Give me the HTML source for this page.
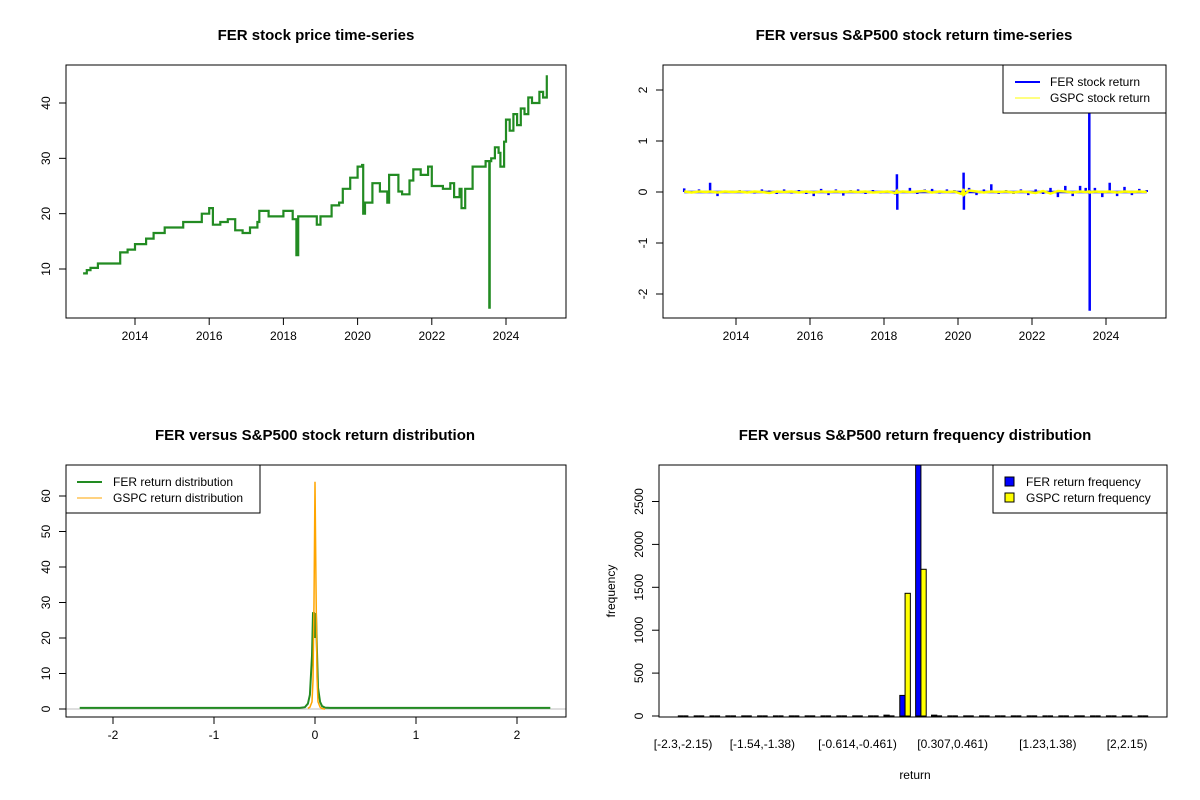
<!DOCTYPE html>
<html><head><meta charset="utf-8"><style>
html,body{margin:0;padding:0;background:#fff;}
svg{display:block;font-family:"Liberation Sans",Arial,sans-serif;}
</style></head><body>
<svg id="s" width="1200" height="800" viewBox="0 0 1200 800"></svg>
<script>
// ---------- data ----------
const priceDates=[2012.6,2012.7,2012.8,2013.0,2013.55,2013.6,2013.8,2014.0,2014.3,2014.5,2014.8,2015.0,2015.3,2015.5,2015.8,2016.0,2016.05,2016.1,2016.3,2016.5,2016.7,2016.9,2017.1,2017.3,2017.35,2017.6,2017.8,2018.0,2018.25,2018.3,2018.35,2018.4,2018.6,2018.9,2019.0,2019.3,2019.5,2019.6,2019.8,2020.0,2020.12,2020.15,2020.2,2020.4,2020.6,2020.8,2020.85,2020.9,2021.1,2021.2,2021.4,2021.5,2021.7,2021.9,2022.0,2022.3,2022.5,2022.6,2022.75,2022.8,2022.9,2023.1,2023.3,2023.45,2023.5,2023.55,2023.56,2023.6,2023.7,2023.8,2023.85,2023.95,2024.0,2024.1,2024.2,2024.3,2024.4,2024.5,2024.6,2024.7,2024.8,2024.9,2025.0,2025.1];
const priceValues=[9.2,9.8,10.2,11,11,13,13.5,14.5,15.5,16.5,17.5,17.5,18.5,18.5,20,21,21,18,18.5,19,17,16.5,17.5,18.5,20.5,19.5,19.5,20.5,19,19,12.5,19.5,19.5,18,19.5,21.5,22,24.5,26.5,28.5,28.8,20,22,25.5,24,22,27,27,24,23.5,26,28,27,28.5,25,24.5,25.5,23,24.5,21,24.5,28.5,28.5,29.5,29.5,3,29.5,30,32,31,28.5,33,37,35,38,36,39,38,41,40,40,42,41,45];
const retDates=[2012.6,2012.8,2013.0,2013.2,2013.3,2013.5,2013.7,2013.9,2014.1,2014.3,2014.5,2014.7,2014.9,2015.1,2015.3,2015.5,2015.7,2015.9,2016.1,2016.3,2016.5,2016.7,2016.9,2017.1,2017.3,2017.5,2017.7,2017.9,2018.1,2018.3,2018.35,2018.36,2018.5,2018.7,2018.9,2019.1,2019.3,2019.5,2019.7,2019.9,2020.1,2020.15,2020.16,2020.3,2020.5,2020.7,2020.9,2021.1,2021.3,2021.5,2021.7,2021.9,2022.1,2022.3,2022.5,2022.7,2022.9,2023.1,2023.3,2023.45,2023.55,2023.56,2023.7,2023.9,2024.1,2024.3,2024.5,2024.7,2024.9,2025.1];
const ferReturns=[0.07,-0.03,0.05,0.02,0.18,-0.08,0.03,-0.02,0.04,0.02,-0.03,0.05,0.03,-0.04,0.05,-0.03,0.04,-0.04,-0.08,0.06,-0.06,0.05,-0.07,0.04,0.05,-0.04,0.04,-0.03,0.03,-0.05,0.35,-0.35,0.03,0.08,-0.04,0.05,0.06,-0.03,0.05,0.04,-0.05,0.38,-0.35,0.08,-0.06,0.05,0.15,-0.04,0.04,-0.04,0.05,-0.06,0.05,-0.04,0.08,-0.1,0.12,-0.08,0.12,0.08,1.72,-2.33,0.08,-0.1,0.18,-0.08,0.1,-0.06,0.06,0.04];
const gspcReturns=[0.01,-0.01,0.01,0,0.01,-0.01,0.01,0,0.01,-0.01,0.01,0,-0.02,0.01,0,0.01,-0.01,0.01,-0.01,0.01,0,0.01,0,0.01,0,0.01,-0.01,0,0.01,-0.02,0.02,-0.01,0.01,0,0.01,0.02,-0.01,0.01,0,0.01,-0.04,0.06,-0.05,0.03,0.01,-0.01,0.01,0,0.01,-0.01,0.01,0,-0.02,0.02,-0.03,0.02,0.01,-0.01,0.01,0,0.01,-0.01,0.01,0,0.01,-0.01,0.01,0,0.01,0];
const densX=[-2.33,-0.15,-0.1,-0.07,-0.05,-0.03,-0.02,-0.01,0,0.01,0.02,0.03,0.05,0.07,0.1,0.15,2.33];
const ferDens=[0.3,0.3,0.5,1.5,4,15,27,27,20,27,16,6,2,0.8,0.4,0.3,0.3];
const gspcDens=[0,0,0,0.2,0.5,2,8,30,64,35,9,2,0.5,0.1,0,0,0];
const binLabels=["[-2.3,-2.15)","[-1.54,-1.38)","[-0.614,-0.461)","[0.307,0.461)","[1.23,1.38)","[2,2.15)"];
const binLabelIdx=[0,5,11,17,23,28];
const ferFreq=[0,0,0,0,0,0,0,0,0,0,0,0,0,10,240,2950,10,0,0,0,0,0,0,0,0,0,0,0,0,0];
const gspcFreq=[0,0,0,0,0,0,0,0,0,0,0,0,0,0,1430,1710,0,0,0,0,0,0,0,0,0,0,0,0,0,0];
const yearTicks=[2014,2016,2018,2020,2022,2024];

// ---------- helpers ----------
const S=document.getElementById('s');const NS='http://www.w3.org/2000/svg';
function el(t,a,p){const e=document.createElementNS(NS,t);for(const k in a)e.setAttribute(k,a[k]);(p||S).appendChild(e);return e;}
function txt(x,y,s,o){const e=el('text',Object.assign({x:x,y:y,'font-size':12,fill:'#000','text-anchor':'middle'},o||{}));e.textContent=s;return e;}
function lin(d0,d1,r0,r1){return v=>r0+(v-d0)/(d1-d0)*(r1-r0);}
function frame(g,x0,y0,x1,y1){el('rect',{x:x0,y:y0,width:x1-x0,height:y1-y0,fill:'none',stroke:'#000','stroke-width':1},g);}
function xTicks(g,vals,sx,y1,labels){vals.forEach((v,i)=>{el('line',{x1:sx(v),x2:sx(v),y1:y1,y2:y1+7,stroke:'#000'},g);g.appendChild(txt(sx(v),y1+22,labels?labels[i]:String(v)));});}
function yTicks(g,vals,sy,x0){vals.forEach(v=>{el('line',{x1:x0-7,x2:x0,y1:sy(v),y2:sy(v),stroke:'#000'},g);g.appendChild(txt(x0-16,sy(v),String(v),{transform:`rotate(-90 ${x0-16} ${sy(v)})`}));});}
function title(x,y,s,g){g.appendChild(txt(x,y,s,{'font-size':15,'font-weight':'bold'}));}

// ---------- panel 1: price ----------
{const g=el('g',{});
const sx=lin(2014,2024,135,506),sy=lin(10,40,269,103);
title(316,40,'FER stock price time-series',g);
frame(g,66,65,566,318);
let d='';priceDates.forEach((t,i)=>{if(i===0)d='M'+sx(t).toFixed(1)+','+sy(priceValues[i]).toFixed(1);else d+='H'+sx(t).toFixed(1)+'V'+sy(priceValues[i]).toFixed(1);});
const p=el('path',{d:d,fill:'none',stroke:'#228B22','stroke-width':2.2},g);
xTicks(g,yearTicks,sx,318);yTicks(g,[10,20,30,40],sy,66);}

// ---------- panel 2: returns ----------
{const g=el('g',{});
const sx=lin(2014,2024,736,1106),sy=lin(0,2,192,90);
title(914,40,'FER versus S&P500 stock return time-series',g);
frame(g,663,65,1166,318);
let d='';retDates.forEach((t,i)=>{d+='M'+sx(t).toFixed(1)+','+sy(0).toFixed(1)+'V'+sy(ferReturns[i]).toFixed(1);});
d+='M'+sx(retDates[0]).toFixed(1)+','+sy(0)+'H'+sx(retDates[retDates.length-1]).toFixed(1);
const p=el('path',{d:d,fill:'none',stroke:'#0000ff','stroke-width':2.5},g);
let d2='';retDates.forEach((t,i)=>{d2+=(i?'L':'M')+sx(t).toFixed(1)+','+sy(gspcReturns[i]).toFixed(1);});
const q=el('path',{d:d2,fill:'none',stroke:'#ffff00','stroke-width':2.5},g);
xTicks(g,yearTicks,sx,318);yTicks(g,[-2,-1,0,1,2],sy,663);
const lg=el('g',{},g);
el('rect',{x:1003,y:65,width:163,height:48,fill:'#fff',stroke:'#000'},lg);
el('line',{x1:1015,x2:1040,y1:82,y2:82,stroke:'#0000ff','stroke-width':2},lg);
el('line',{x1:1015,x2:1040,y1:98,y2:98,stroke:'#ffff00','stroke-width':1},lg);
lg.appendChild(txt(1050,86,'FER stock return',{'text-anchor':'start'}));
lg.appendChild(txt(1050,102,'GSPC stock return',{'text-anchor':'start'}));}

// ---------- panel 3: density ----------
{const g=el('g',{});
const sx=lin(0,1,315,416),sy=lin(0,60,709,496);
title(315,440,'FER versus S&P500 stock return distribution',g);
el('line',{x1:66,x2:566,y1:sy(0),y2:sy(0),stroke:'#bebebe'},g);
let d='';densX.forEach((x,i)=>{d+=(i?'L':'M')+sx(x).toFixed(1)+','+sy(ferDens[i]).toFixed(1);});
const p=el('path',{d:d,fill:'none',stroke:'#228B22','stroke-width':2},g);
let d2='';densX.forEach((x,i)=>{if(gspcDens[i]>0||(i>0&&gspcDens[i-1]>0))d2+=(d2?'L':'M')+sx(x).toFixed(1)+','+sy(gspcDens[i]).toFixed(1);});
const q=el('path',{d:d2,fill:'none',stroke:'#ffa500','stroke-width':1.5},g);
frame(g,66,465,566,717);
xTicks(g,[-2,-1,0,1,2],sx,717);yTicks(g,[0,10,20,30,40,50,60],sy,66);
const lg=el('g',{},g);
el('rect',{x:66,y:465,width:194,height:48,fill:'#fff',stroke:'#000'},lg);
el('line',{x1:77,x2:102,y1:482,y2:482,stroke:'#228B22','stroke-width':2},lg);
el('line',{x1:77,x2:102,y1:498,y2:498,stroke:'#ffa500','stroke-width':1},lg);
lg.appendChild(txt(113,486,'FER return distribution',{'text-anchor':'start'}));
lg.appendChild(txt(113,502,'GSPC return distribution',{'text-anchor':'start'}));}

// ---------- panel 4: histogram ----------
{const g=el('g',{});
const sx=lin(-2.56,93.56,659,1167),sy=lin(0,2500,716,501.5);
title(915,440,'FER versus S&P500 return frequency distribution',g);
const clip=el('clipPath',{id:'c4'},g);el('rect',{x:659,y:465,width:508,height:252},clip);
const bars=el('g',{'clip-path':'url(#c4)'},g);
function bar(v,x0,x1,fill,name){if(v<=0){const l=el('line',{x1:x0,x2:x1,y1:sy(0),y2:sy(0),stroke:'#000','stroke-width':1.3},bars);return;}
const r=el('rect',{x:x0,y:sy(v),width:x1-x0,height:sy(0)-sy(v),fill:fill,stroke:'#000','stroke-width':1},bars);}
ferFreq.forEach((v,i)=>bar(v,sx(3*i+1),sx(3*i+2),'#0000ff','fer-bar'));
gspcFreq.forEach((v,i)=>bar(v,sx(3*i+2),sx(3*i+3),'#ffff00','gspc-bar'));
frame(g,659,465,1167,717);
yTicks(g,[0,500,1000,1500,2000,2500],sy,659);
binLabelIdx.forEach((b,i)=>{g.appendChild(txt(sx(3*b+2),748,binLabels[i]));});
g.appendChild(txt(915,779,'return'));
g.appendChild(txt(615,591,'frequency',{transform:'rotate(-90 615 591)'}));
const lg=el('g',{},g);
el('rect',{x:993,y:465,width:174,height:48,fill:'#fff',stroke:'#000'},lg);
el('rect',{x:1005,y:477,width:9,height:9,fill:'#0000ff',stroke:'#000'},lg);
el('rect',{x:1005,y:493,width:9,height:9,fill:'#ffff00',stroke:'#000'},lg);
lg.appendChild(txt(1026,486,'FER return frequency',{'text-anchor':'start'}));
lg.appendChild(txt(1026,502,'GSPC return frequency',{'text-anchor':'start'}));}
</script>
</body></html>
